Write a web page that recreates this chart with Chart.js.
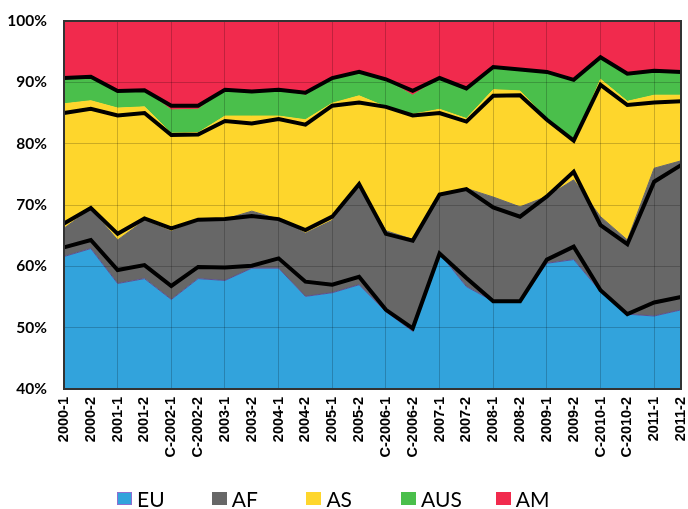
<!DOCTYPE html>
<html lang="en">
<head>
  <meta charset="UTF-8" />
  <title>Regional shares 2000-2011</title>
  <script src="https://cdn.jsdelivr.net/npm/chart.js"></script>
  <style>
    body {
      margin: 0;
      background: #ffffff;
    }

    .wrap {
      position: relative;
      width: 688px;
      height: 509px;
    }

    .legend {
      position: absolute;
      left: 117px;
      top: 488px;
      display: flex;
      font-family: Lato, "Liberation Sans", Arial, sans-serif;
      font-size: 21px;
      line-height: 21px;
      color: #000;
    }

    .legend .item {
      width: 94.7px;
      display: flex;
      align-items: center;
    }

    .legend .box {
      display: inline-block;
      width: 15px;
      height: 13px;
      margin-right: 5px;
      position: relative;
      top: 0px;
      box-sizing: border-box;
    }
  </style>
</head>
<body>
  <div class="wrap">
    <canvas id="shareChart" width="688" height="509"></canvas>
    <div class="legend" id="legend"></div>
  </div>

  <script>
    const periods = ['2000-1', '2000-2', '2001-1', '2001-2', 'C-2002-1', 'C-2002-2', '2003-1', '2003-2',
      '2004-1', '2004-2', '2005-1', '2005-2', 'C-2006-1', 'C-2006-2', '2007-1', '2007-2',
      '2008-1', '2008-2', '2009-1', '2009-2', 'C-2010-1', 'C-2010-2', '2011-1', '2011-2'];

    // shares in % (stacked to 100)
    const eu  = [61.6, 62.9, 57.2, 58.0, 54.6, 58.0, 57.7, 59.7, 59.7, 55.1, 55.7, 57.0,
                 52.6, 49.4, 62.1, 56.7, 54.3, 54.3, 60.5, 61.1, 55.9, 52.2, 51.9, 52.9];
    const af  = [4.6, 6.5, 7.1, 9.5, 11.1, 9.5, 10.0, 9.3, 8.0, 10.3, 11.8, 16.4,
                 13.2, 15.0, 9.7, 16.0, 17.0, 15.4, 10.9, 13.0, 12.2, 12.1, 24.1, 24.3];
    const as  = [20.3, 17.6, 21.5, 18.5, 16.0, 14.3, 16.8, 15.5, 16.8, 18.5, 19.1, 14.4,
                 20.2, 20.4, 13.8, 11.4, 17.5, 18.9, 12.6, 6.2, 22.4, 22.6, 11.9, 10.7];
    const aus = [4.2, 3.9, 2.8, 2.7, 3.8, 3.8, 4.3, 4.0, 4.3, 4.0, 4.1, 3.9,
                 4.4, 3.1, 5.1, 4.9, 3.7, 3.5, 7.7, 10.1, 3.6, 4.5, 4.0, 3.8];
    const am  = [9.3, 9.1, 11.4, 11.3, 14.5, 14.4, 11.2, 11.5, 11.2, 12.1, 9.3, 8.3,
                 9.6, 12.1, 9.3, 11.0, 7.5, 7.9, 8.3, 9.6, 5.9, 8.6, 8.1, 8.3];

    // black cumulative lines (%)
    const lineEU  = [63.1, 64.3, 59.4, 60.2, 56.8, 59.9, 59.8, 60.1, 61.3, 57.5, 57.0, 58.3,
                     52.9, 49.9, 62.1, 58.1, 54.3, 54.3, 61.1, 63.2, 56.1, 52.2, 54.1, 55.0];
    const lineAF  = [67.0, 69.5, 65.3, 67.8, 66.2, 67.6, 67.7, 68.2, 67.7, 65.9, 68.1, 73.4,
                     65.3, 64.2, 71.7, 72.6, 69.6, 68.1, 71.4, 75.4, 66.7, 63.6, 73.8, 76.5];
    const lineAS  = [85.0, 85.7, 84.6, 85.0, 81.4, 81.5, 83.7, 83.3, 84.0, 83.1, 86.2, 86.7,
                     86.0, 84.6, 85.0, 83.6, 87.8, 87.9, 83.9, 80.5, 89.6, 86.3, 86.7, 86.9];
    const lineAUS = [90.7, 90.9, 88.6, 88.7, 86.2, 86.2, 88.8, 88.5, 88.8, 88.3, 90.7, 91.7,
                     90.5, 88.6, 90.7, 89.0, 92.5, 92.1, 91.7, 90.4, 94.1, 91.4, 91.9, 91.7];

    const yTicks = [40, 50, 60, 70, 80, 90, 100];

    const regions = [
      { label: 'EU',  data: eu,  color: '#32a3dc', border: '#5d4f8f' },
      { label: 'AF',  data: af,  color: '#676767', border: '#676767' },
      { label: 'AS',  data: as,  color: '#fed62c', border: '#fed62c' },
      { label: 'AUS', data: aus, color: '#4abf4b', border: '#4abf4b' },
      { label: 'AM',  data: am,  color: '#f12a4d', border: '#f12a4d' }
    ];

    const gridColor = 'rgba(0, 0, 0, 0.2)';

    const areaSets = regions.map((r, i) => ({
      label: r.label,
      data: r.data,
      stack: 'areas',
      backgroundColor: r.color,
      borderColor: r.border,
      borderWidth: 1,
      fill: i === 0 ? 'origin' : '-1',
      pointRadius: 0,
      tension: 0,
      order: 1
    }));

    const lineSets = [lineEU, lineAF, lineAS, lineAUS].map((d, i) => ({
      data: d,
      stack: 'line' + i,
      borderColor: '#000000',
      borderWidth: 4,
      fill: false,
      pointRadius: 0,
      tension: 0,
      order: 0
    }));

    Chart.defaults.font.family = '"Liberation Sans", Arial, sans-serif';
    Chart.defaults.color = '#000';

    const framePlugin = {
      id: 'frame',
      afterDraw(chart) {
        const { ctx, chartArea: a } = chart;
        ctx.save();
        ctx.strokeStyle = '#333333';
        ctx.lineWidth = 2;
        ctx.strokeRect(a.left, a.top, a.right - a.left, a.bottom - a.top);
        ctx.restore();
      }
    };

    const ctx = document.getElementById('shareChart').getContext('2d');
    new Chart(ctx, {
      type: 'line',
      data: {
        labels: periods,
        datasets: [...lineSets, ...areaSets]
      },
      options: {
        responsive: false,
        animation: false,
        layout: { padding: { top: 21, right: 7, left: 0, bottom: 0 } },
        plugins: {
          legend: { display: false },
          tooltip: { enabled: false }
        },
        scales: {
          x: {
            offset: false,
            grid: {
              z: 1,
              drawTicks: false,
              color: (c) => (c.index % 2 === 0 ? gridColor : 'rgba(0,0,0,0)')
            },
            border: { display: false },
            ticks: {
              autoSkip: false,
              minRotation: 90,
              maxRotation: 90,
              padding: 8,
              font: { size: 14.5, weight: 'bold' }
            },
            afterFit: (scale) => {
              scale.height = 120;
              scale.paddingLeft = 0;
              scale.paddingRight = 0;
            }
          },
          y: {
            stacked: true,
            min: 40,
            max: 100,
            grid: { z: 1, drawTicks: false, color: gridColor },
            border: { display: false },
            afterBuildTicks: (scale) => { scale.ticks = yTicks.map(v => ({ value: v })); },
            ticks: {
              padding: 17,
              font: { family: 'Lato, "Liberation Sans", Arial, sans-serif', size: 15.5, weight: 'bold' },
              callback: (v) => v + '%'
            },
            afterFit: (scale) => {
              scale.width = 64;
              scale.paddingTop = 0;
              scale.paddingBottom = 0;
            }
          }
        }
      },
      plugins: [framePlugin]
    });

    // html legend
    const legend = document.getElementById('legend');
    regions.forEach(r => {
      const item = document.createElement('div');
      item.className = 'item';
      const box = document.createElement('span');
      box.className = 'box';
      box.style.background = r.color;
      if (r.label === 'EU') box.style.border = '1px solid #8f6fd0';
      item.appendChild(box);
      item.appendChild(document.createTextNode(r.label));
      legend.appendChild(item);
    });
  </script>
</body>
</html>
